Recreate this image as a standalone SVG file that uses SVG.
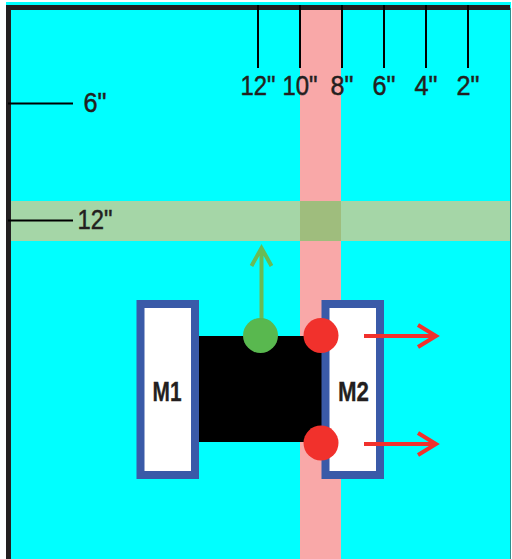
<svg xmlns="http://www.w3.org/2000/svg" width="512" height="559" viewBox="0 0 512 559">
<style>
.t{font-family:"Liberation Sans",Arial,sans-serif;font-size:27px;fill:#231f20;stroke:#231f20;stroke-width:.5;text-anchor:middle}
.m{font-family:"Liberation Sans",Arial,sans-serif;font-size:27px;font-weight:bold;fill:#231f20;stroke:#231f20;stroke-width:.3;text-anchor:middle}
.tick{stroke:#000;stroke-width:2;fill:none}
.motor{fill:#fff;stroke:#3a5aa8;stroke-width:8}
.red{stroke:#f1312c;stroke-width:4;fill:none}
.grn{stroke:#69bb55;stroke-width:4;fill:none}
</style>
<rect width="512" height="559" fill="#fff"/>
<rect x="6" y="2" width="505" height="557" fill="#0ff"/>
<rect id="pink-band" x="300" y="10" width="41" height="549" fill="#f9a8a8"/>
<rect id="green-band" x="11" y="201" width="499" height="40" fill="#a5d6a7"/>
<rect id="overlap" x="300" y="201" width="41" height="40" fill="#9fbd7d"/>
<path id="frame" d="M8.500 559V7.500H510" fill="none" stroke="#231f20" stroke-width="5"/>
<rect x="510" y="8" width="1" height="551" fill="#2a8f8f"/>
<g id="labels">
<text class="t" x="258" y="95" textLength="35" lengthAdjust="spacingAndGlyphs">12"</text>
<text class="t" x="300" y="95" textLength="35" lengthAdjust="spacingAndGlyphs">10"</text>
<text class="t" x="342" y="95" textLength="23" lengthAdjust="spacingAndGlyphs">8"</text>
<text class="t" x="384" y="95" textLength="23" lengthAdjust="spacingAndGlyphs">6"</text>
<text class="t" x="426" y="95" textLength="23" lengthAdjust="spacingAndGlyphs">4"</text>
<text class="t" x="468" y="95" textLength="23" lengthAdjust="spacingAndGlyphs">2"</text>
<text class="t" x="95" y="112" textLength="23" lengthAdjust="spacingAndGlyphs">6"</text>
<text class="t" x="95" y="229" textLength="35" lengthAdjust="spacingAndGlyphs">12"</text>
</g>
<rect id="chassis" x="199" y="336" width="123" height="106" fill="#000"/>
<g id="M1"><rect class="motor" x="140.500" y="304" width="54.500" height="171"/><text class="m" x="167" y="400.500" textLength="29" lengthAdjust="spacingAndGlyphs">M1</text></g>
<g id="M2"><rect class="motor" x="325.500" y="304" width="54.500" height="171"/><text class="m" x="353.500" y="400.500" textLength="31" lengthAdjust="spacingAndGlyphs">M2</text></g>
<g id="connectors">
<path class="tick" d="M258 5V68M300 5V68M342 5V68M384 5V68M426 5V68M468 5V68M8 103.500H73M8 220.500H73"/>
<path class="grn" d="M261.500 320V249M251.500 266L261.500 248L271.500 266"/>
<path class="red" d="M364 336H436M418 325L436 336L418 347M364 444H436M418 433L436 444L418 455"/>
</g>
<circle id="sensor-green" cx="260.500" cy="335.500" r="17.500" fill="#59b84f"/>
<circle id="sensor-red-1" cx="321" cy="335.500" r="17.500" fill="#f1312c"/>
<circle id="sensor-red-2" cx="321" cy="443" r="17.500" fill="#f1312c"/>
</svg>
